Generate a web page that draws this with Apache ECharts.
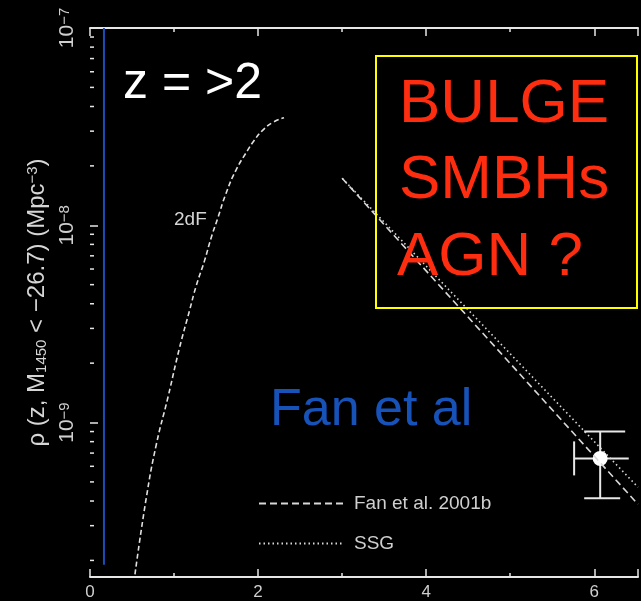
<!DOCTYPE html>
<html><head><meta charset="utf-8">
<script src="https://cdn.jsdelivr.net/npm/echarts@6/dist/echarts.min.js"></script>
<style>html,body{margin:0;padding:0;background:#000;}#c{width:641px;height:601px;}</style>
</head><body><div id="c"></div>
<script>
// ---- data ----
const xTickValues = [0, 2, 4, 6];
const yMinorTicks = [2e-10,3e-10,4e-10,5e-10,6e-10,7e-10,8e-10,9e-10,
                     2e-9,3e-9,4e-9,5e-9,6e-9,7e-9,8e-9,9e-9,
                     2e-8,3e-8,4e-8,5e-8,6e-8,7e-8,8e-8,9e-8];
const twoDF_x = [0.535,0.671,0.789,0.927,1.065,1.183,1.263,1.361,1.440,1.518,1.618,1.736,1.873,1.953,2.051,2.169,2.308];
const twoDF_y = [1.70e-10,4.18e-10,7.74e-10,1.34e-9,2.39e-9,3.68e-9,4.92e-9,6.58e-9,8.6e-9,1.08e-8,1.45e-8,1.90e-8,2.39e-8,2.69e-8,3.02e-8,3.31e-8,3.51e-8];
const fan_x = [3.0, 6.52];
const fan_y = [1.73e-8, 3.85e-10];
const ssg_x = [3.0, 6.52];
const ssg_y = [1.73e-8, 4.70e-10];
const blue_x = [0.166, 0.166];
const blue_y = [1e-7, 1.9e-10];
const point_x = [6.07];
const point_y = [6.58e-10];
const point_xlo = [5.76], point_xhi = [6.41];
const point_ylo = [4.13e-10], point_yhi = [9.0e-10];

const zip = (a, b) => a.map((v, i) => [v, b[i]]);
const FONT = 'Liberation Sans';
const axisCol = '#e6e6e6';

const chart = echarts.init(document.getElementById('c'));
chart.setOption({
  backgroundColor: '#000',
  animation: false,
  grid: {left: 90, right: 0, top: 28, bottom: 21},
  xAxis: [{
    type: 'value', min: 0, max: 6.52, interval: 2, position: 'bottom',
    axisLine: {show: true, onZero: false, lineStyle: {color: axisCol, width: 2}},
    axisTick: {show: true, inside: true, length: 8, lineStyle: {color: axisCol, width: 1.5}},
    minorTick: {show: true, splitNumber: 2, length: 4, lineStyle: {color: axisCol, width: 1.5}},
    axisLabel: {color: '#cfcfcf', fontSize: 17, fontFamily: FONT, margin: 7,
      formatter: v => (xTickValues.indexOf(Math.round(v*1000)/1000) >= 0 ? String(v) : '')},
    splitLine: {show: false}
  }, {
    type: 'value', min: 0, max: 6.52, interval: 2, position: 'top',
    axisLine: {show: true, onZero: false, lineStyle: {color: axisCol, width: 2}},
    axisTick: {show: true, inside: true, length: 8, lineStyle: {color: axisCol, width: 1.5}},
    minorTick: {show: true, splitNumber: 2, length: 4, lineStyle: {color: axisCol, width: 1.5}},
    axisLabel: {show: false},
    splitLine: {show: false}
  }],
  yAxis: {
    type: 'log', logBase: 10, min: 1.648e-10, max: 1e-7,
    axisLine: {show: false},
    axisTick: {show: true, inside: true, length: 8, lineStyle: {color: axisCol, width: 1.5}},
    splitLine: {show: false},
    axisLabel: {
      rotate: 90, margin: 12, color: '#cfcfcf',
      formatter: function (v) {
        const e = Math.log10(v), r = Math.round(e);
        if (Math.abs(e - r) > 1e-6) return '';
        return '{a|10}{b|\u2212' + (-r) + '}';
      },
      rich: {
        a: {fontSize: 21, fontFamily: FONT, color: '#cfcfcf'},
        b: {fontSize: 15, fontFamily: FONT, color: '#cfcfcf', verticalAlign: 'top'}
      }
    },
    name: '{t|\u03c1 (z, M}{s|1450}{t| < \u221226.7) (Mpc}{p|\u22123}{t|)}',
    nameLocation: 'middle', nameRotate: 90, nameGap: 39,
    nameTextStyle: {
      rich: {
        t: {fontSize: 24, fontFamily: FONT, color: '#d6d6d6'},
        s: {fontSize: 15, fontFamily: FONT, color: '#d6d6d6', verticalAlign: 'bottom'},
        p: {fontSize: 15, fontFamily: FONT, color: '#d6d6d6', verticalAlign: 'top'}
      }
    }
  },
  legend: {
    data: ['Fan et al. 2001b', 'SSG'],
    orient: 'vertical', left: 258, top: 494, padding: 0,
    itemWidth: 85, itemHeight: 14, itemGap: 21,
    itemStyle: {opacity: 0},
    textStyle: {color: '#cfcfcf', fontSize: 19, fontFamily: FONT, padding: [0, 0, 0, 5]}
  },
  series: [
    {
      name: '2dF', type: 'line', smooth: true, symbol: 'none',
      data: zip(twoDF_x, twoDF_y),
      lineStyle: {color: '#e0e0e0', width: 1.6, type: [5, 3]}
    },
    {
      name: 'Fan et al. 2001b', type: 'line', symbol: 'none',
      data: zip(fan_x, fan_y),
      lineStyle: {color: '#d8d8d8', width: 1.6, type: [7, 4]},
      itemStyle: {color: '#d8d8d8'}
    },
    {
      name: 'SSG', type: 'line', symbol: 'none',
      data: zip(ssg_x, ssg_y),
      lineStyle: {color: '#d8d8d8', width: 1.6, type: [1.5, 3]},
      itemStyle: {color: '#d8d8d8'}
    },
    {
      name: 'blue', type: 'line', symbol: 'none',
      data: zip(blue_x, blue_y),
      lineStyle: {color: '#1a4fb8', width: 2}
    },
    {
      name: 'minorTicks', type: 'custom', clip: false,
      data: yMinorTicks.map(v => [0, v]),
      encode: {x: 0, y: 1},
      renderItem: function (params, api) {
        const p = api.coord([0, api.value(1)]);
        return {type: 'line', shape: {x1: p[0], y1: p[1], x2: p[0] + 4, y2: p[1]},
                style: {stroke: axisCol, lineWidth: 1.5}};
      }
    },
    {
      name: 'point', type: 'custom', clip: false,
      data: point_x.map((x, i) => [x, point_y[i], point_xlo[i], point_xhi[i], point_ylo[i], point_yhi[i]]),
      encode: {x: 0, y: 1},
      renderItem: function (params, api) {
        const x = api.value(0), y = api.value(1);
        const c = api.coord([x, y]);
        const l = api.coord([api.value(2), y]);
        const r = api.coord([api.value(3), y]);
        const b = api.coord([x, api.value(4)]);
        const t = api.coord([x, api.value(5)]);
        const st = {stroke: '#e8e8e8', lineWidth: 2};
        return {type: 'group', children: [
          {type: 'line', shape: {x1: c[0], y1: t[1], x2: c[0], y2: b[1]}, style: st},
          {type: 'line', shape: {x1: c[0] - 16, y1: t[1], x2: c[0] + 25, y2: t[1]}, style: st},
          {type: 'line', shape: {x1: c[0] - 16, y1: b[1], x2: c[0] + 20, y2: b[1]}, style: st},
          {type: 'line', shape: {x1: l[0], y1: c[1], x2: r[0], y2: c[1]}, style: st},
          {type: 'line', shape: {x1: l[0], y1: c[1] - 17, x2: l[0], y2: c[1] + 17}, style: st},
          {type: 'circle', shape: {cx: c[0], cy: c[1], r: 7.5}, style: {fill: '#ffffff'}}
        ]};
      }
    }
  ],
  graphic: [
    {type: 'rect', shape: {x: 376, y: 56, width: 261, height: 252},
     style: {fill: 'none', stroke: '#ffff00', lineWidth: 2}, z: 100},
    {type: 'text', x: 399, y: 105, style: {text: 'BULGE', fill: '#ff2d0f', font: '62px "Liberation Sans"', textVerticalAlign: 'middle'}, z: 100},
    {type: 'text', x: 399, y: 181, style: {text: 'SMBHs', fill: '#ff2d0f', font: '62px "Liberation Sans"', textVerticalAlign: 'middle'}, z: 100},
    {type: 'text', x: 397, y: 258, style: {text: 'AGN ?', fill: '#ff2d0f', font: '62px "Liberation Sans"', textVerticalAlign: 'middle'}, z: 100},
    {type: 'text', x: 123, y: 84, style: {text: 'z = >2', fill: '#ffffff', font: '50px "Liberation Sans"', textVerticalAlign: 'middle'}, z: 100},
    {type: 'text', x: 270, y: 411, style: {text: 'Fan et al', fill: '#1652b8', font: '52px "Liberation Sans"', textVerticalAlign: 'middle'}, z: 100},
    {type: 'text', x: 174, y: 220, style: {text: '2dF', fill: '#d6d6d6', font: '19px "Liberation Sans"', textVerticalAlign: 'middle'}, z: 100}
  ]
});
</script>
</body></html>
